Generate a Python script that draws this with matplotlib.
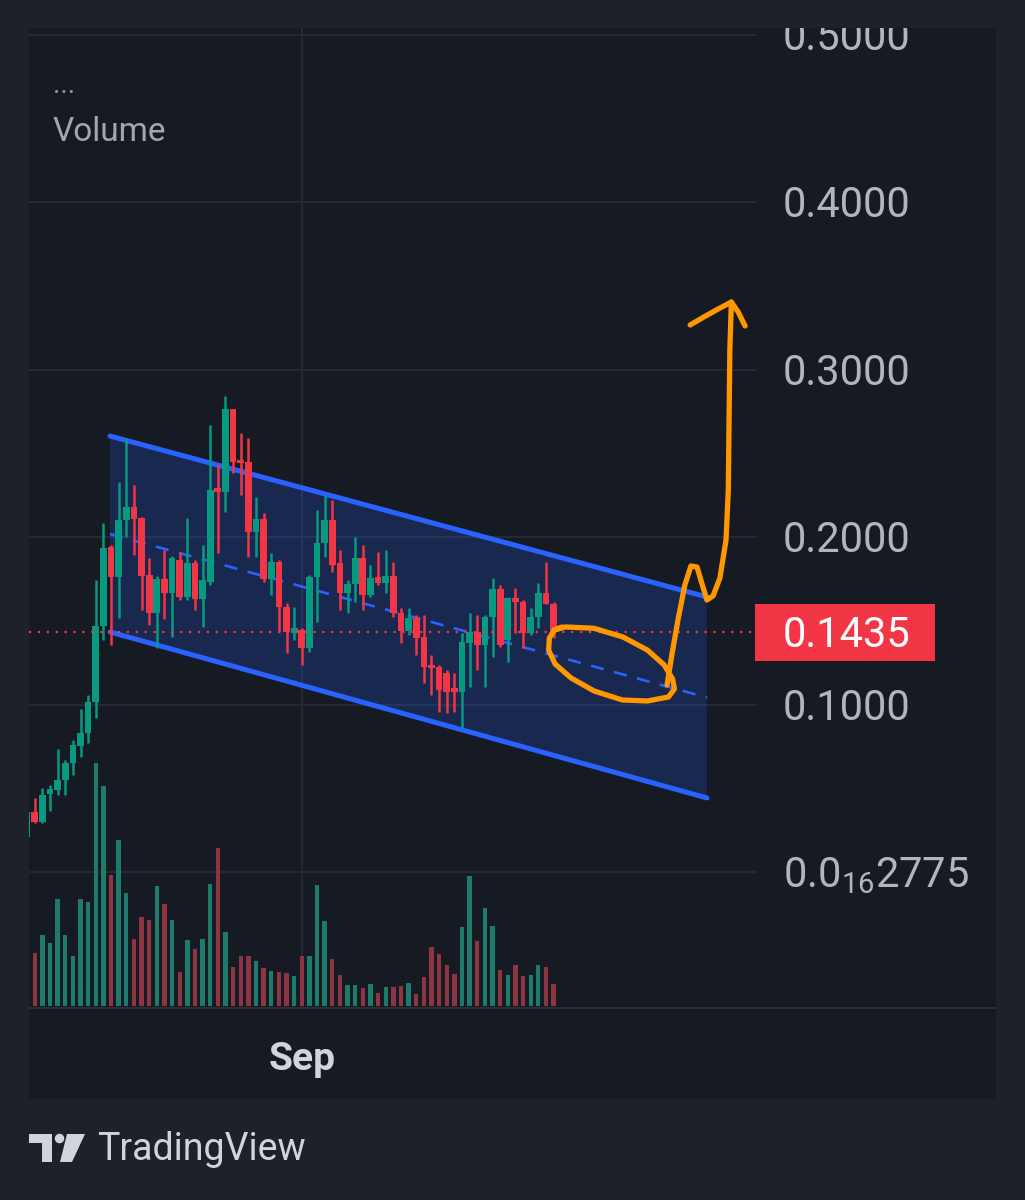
import numpy as np
import pandas as pd
import matplotlib
matplotlib.use('Agg')
import matplotlib.pyplot as plt
from matplotlib.patches import Rectangle, Polygon, Ellipse
from matplotlib.lines import Line2D
from matplotlib.transforms import ScaledTranslation, blended_transform_factory

plt.rcParams['font.family'] = ['Roboto', 'DejaVu Sans']
plt.rcParams['mathtext.fontset'] = 'custom'
plt.rcParams['mathtext.rm'] = 'Roboto'
plt.rcParams['mathtext.it'] = 'Roboto'
plt.rcParams['mathtext.bf'] = 'Roboto:bold'

# ---------------- data ----------------
dates = pd.date_range('2024-07-27', periods=70, freq='D')
opens = [0.0209, 0.0360, 0.0300, 0.0466, 0.0490, 0.0549, 0.0651, 0.0752, 0.0832, 0.1017,
         0.1469, 0.1940, 0.1761, 0.2101, 0.2181, 0.2113, 0.1773, 0.1546, 0.1749, 0.1666,
         0.1863, 0.1642, 0.1845, 0.1630, 0.1733, 0.2293, 0.2269, 0.2764, 0.2460, 0.2448,
         0.2030, 0.2107, 0.1749, 0.1851, 0.1582, 0.1427, 0.1445, 0.1337, 0.1761, 0.1964,
         0.2101, 0.1845, 0.1666, 0.1719, 0.1875, 0.1654, 0.1761, 0.1725, 0.1767, 0.1546,
         0.1439, 0.1516, 0.1403, 0.1236, 0.1224, 0.1188, 0.1099, 0.1075, 0.1367, 0.1433,
         0.1355, 0.1522, 0.1690, 0.1385, 0.1636, 0.1612, 0.1427, 0.1522, 0.1666, 0.1600]
highs = [0.0370, 0.0442, 0.0501, 0.0519, 0.0734, 0.0669, 0.0788, 0.0973, 0.1057, 0.1743,
         0.2084, 0.1952, 0.2330, 0.2591, 0.2310, 0.2120, 0.1875, 0.1767, 0.1922, 0.1887,
         0.1910, 0.2113, 0.1863, 0.1952, 0.2669, 0.2430, 0.2842, 0.2764, 0.2621, 0.2591,
         0.2239, 0.2143, 0.1904, 0.1863, 0.1606, 0.1582, 0.1457, 0.1773, 0.2161, 0.2251,
         0.2221, 0.1922, 0.1743, 0.2000, 0.1952, 0.1833, 0.1910, 0.1922, 0.1851, 0.1576,
         0.1576, 0.1534, 0.1534, 0.1296, 0.1236, 0.1206, 0.1188, 0.1427, 0.1546, 0.1534,
         0.1534, 0.1755, 0.1713, 0.1642, 0.1696, 0.1624, 0.1576, 0.1725, 0.1851, 0.1612]
lows = [0.0203, 0.0293, 0.0290, 0.0366, 0.0460, 0.0460, 0.0579, 0.0687, 0.0770, 0.0919,
        0.1385, 0.1355, 0.1516, 0.2002, 0.1893, 0.1564, 0.1475, 0.1337, 0.1510, 0.1403,
        0.1624, 0.1624, 0.1564, 0.1463, 0.1713, 0.1904, 0.2149, 0.2382, 0.2251, 0.1881,
        0.1881, 0.1731, 0.1654, 0.1433, 0.1307, 0.1385, 0.1236, 0.1313, 0.1493, 0.1881,
        0.1791, 0.1564, 0.1546, 0.1612, 0.1564, 0.1642, 0.1713, 0.1666, 0.1522, 0.1367,
        0.1415, 0.1296, 0.1128, 0.1057, 0.0955, 0.0949, 0.0955, 0.0860, 0.1104, 0.1206,
        0.1104, 0.1284, 0.1343, 0.1254, 0.1427, 0.1337, 0.1415, 0.1457, 0.1600, 0.1397]
closes = [0.0358, 0.0300, 0.0460, 0.0496, 0.0549, 0.0653, 0.0758, 0.0832, 0.1017, 0.1469,
          0.1934, 0.1761, 0.2101, 0.2181, 0.2107, 0.1767, 0.1546, 0.1749, 0.1666, 0.1875,
          0.1642, 0.1845, 0.1630, 0.1743, 0.2280, 0.2269, 0.2764, 0.2448, 0.2442, 0.2030,
          0.2107, 0.1749, 0.1851, 0.1582, 0.1433, 0.1457, 0.1337, 0.1761, 0.1964, 0.2101,
          0.1833, 0.1666, 0.1719, 0.1875, 0.1654, 0.1755, 0.1725, 0.1767, 0.1546, 0.1439,
          0.1516, 0.1397, 0.1224, 0.1218, 0.1087, 0.1075, 0.1075, 0.1373, 0.1433, 0.1355,
          0.1522, 0.1690, 0.1355, 0.1636, 0.1612, 0.1427, 0.1522, 0.1666, 0.1600, 0.1435]
volumes = [40, 53, 71, 63, 107, 71, 50, 107, 104, 243,
           220, 131, 166, 113, 67, 89, 86, 120, 102, 86,
           34, 66, 57, 67, 122, 158, 74, 39, 50, 50,
           45, 38, 35, 34, 33, 30, 50, 50, 121, 85,
           47, 31, 21, 21, 18, 22, 13, 19, 19, 20,
           23, 12, 29, 59, 52, 41, 32, 79, 130, 65,
           98, 80, 36, 31, 41, 30, 31, 41, 39, 22]

price_ticks = [0.5, 0.4, 0.3, 0.2, 0.1, 0.0]
price_labels = ['0.5000', '0.4000', '0.3000', '0.2000', '0.1000', r'0.0$_{16}$2775']
last_price = 0.1435
month_label = 'Sep'

# channel drawing anchors (bar index, price)
chan_x = [10.87, 89.1]
chan_upper = [0.2603, 0.1642]
chan_lower = [0.1433, 0.0442]
chan_mid = [0.2018, 0.1042]

# hand-drawn orange annotation (bar index, price)
loop_x = [69.1, 70.6, 74.3, 78.1, 81.3, 83.5, 84.6, 84.84, 84.06, 81.3, 78.0, 74.3,
          71.3, 69.2, 68.35, 68.45, 69.1, 70.1]
loop_y = [0.1445, 0.1463, 0.1455, 0.1403, 0.1325, 0.1236, 0.1152, 0.1093, 0.1045, 0.1021, 0.1027, 0.1081,
          0.1158, 0.1242, 0.1325, 0.1397, 0.1445, 0.1463]
tail_x = [83.87, 84.5, 85.3, 86.2, 87.0, 87.8, 88.5, 89.1, 89.9, 90.8, 91.6, 91.9, 92.0, 92.1, 92.3]
tail_y = [0.1116, 0.1296, 0.1504, 0.1713, 0.1827, 0.1821, 0.1713, 0.1624, 0.1648, 0.1755, 0.1982, 0.2281, 0.2699, 0.3116, 0.3403]
head_x = [86.9, 88.9, 90.8, 92.3, 93.2, 94.1]
head_y = [0.3266, 0.3319, 0.3367, 0.3403, 0.3343, 0.3260]

# ---------------- style ----------------
OUTER = '#1e212a'
INNER = '#161a23'
GRID = '#262a35'
GREEN = '#089981'
RED = '#f23645'
VGREEN = '#1e7a6b'
VRED = '#8d3542'
BLUE = '#2962ff'
ORANGE = '#ff9800'
LABEL = '#b2b5be'

W, H = 1025, 1200
fig = plt.figure(figsize=(W / 100, H / 100), dpi=100, facecolor=OUTER)

def fr(x0, y0, x1, y1):
    return [x0 / W, 1 - y1 / H, (x1 - x0) / W, (y1 - y0) / H]

# pane background
r = fr(29, 28, 996, 1099)
fig.add_artist(Rectangle((r[0], r[1]), r[2], r[3], transform=fig.transFigure,
                         facecolor=INNER, edgecolor='none', zorder=-10))

ax = fig.add_axes(fr(29, 28, 757, 1008))
ax.set_facecolor('none')
for s in ax.spines.values():
    s.set_visible(False)
ax.set_xticks([])
ax.set_yticks([])

x = np.arange(len(opens))
o = np.array(opens); h = np.array(highs); l = np.array(lows); c = np.array(closes)
up = c >= o
ccol = np.where(up, GREEN, RED)
vcol = np.where(up, VGREEN, VRED)

sep_idx = dates.get_loc(pd.Timestamp('2024-09-01'))

# grid
for p in price_ticks:
    ax.axhline(p, color=GRID, lw=1.4, zorder=0)
ax.axvline(sep_idx, color=GRID, lw=1.4, zorder=0)

# channel
cx = np.array(chan_x)
poly = Polygon([(cx[0], chan_upper[0]), (cx[1], chan_upper[1]),
                (cx[1], chan_lower[1]), (cx[0], chan_lower[0])],
               closed=True, facecolor=BLUE, alpha=0.2, edgecolor='none', zorder=1)
ax.add_patch(poly)
ax.plot(cx, chan_upper, color=BLUE, lw=3.6, solid_capstyle='round', zorder=2)
ax.plot(cx, chan_lower, color=BLUE, lw=3.6, solid_capstyle='round', zorder=2)
ax.plot(cx, chan_mid, color=BLUE, lw=1.9, linestyle=(0, (5, 4)), zorder=2)

# candles
ax.vlines(x, l, h, colors=ccol, lw=1.8, zorder=3)
body_bot = np.minimum(o, c)
body_h = np.maximum(np.abs(c - o), 0.0013)
ax.bar(x, body_h, bottom=body_bot, width=0.88, color=ccol, linewidth=0, zorder=4)

# last price line
ax.axhline(last_price, color=RED, lw=1.6, linestyle=(0, (1, 3)), zorder=5)

# orange annotation
for xs, ys in ((loop_x, loop_y), (tail_x, tail_y), (head_x, head_y)):
    ax.plot(xs, ys, color=ORANGE, lw=3.8, solid_capstyle='round', solid_joinstyle='round', zorder=6)

ax.set_xlim(0.25, 95.66)
ax.set_ylim(-0.0812, 0.5039)

# volume overlay
vax = ax.twinx()
vax.bar(x, volumes, width=0.57, color=vcol, linewidth=0)
vax.set_ylim(-2, 978)
vax.axis('off')
vax.patch.set_visible(False)

# price scale
ps = fig.add_axes(fr(757, 28, 996, 1008), sharey=ax)
ps.set_facecolor('none')
ps.axis('off')
ps.set_xlim(0, 1)
lx = (783 - 757) / (996 - 757)
off = ScaledTranslation(0, -15 / 100, fig.dpi_scale_trans)
for p, lab in zip(price_ticks, price_labels):
    ps.text(lx, p, lab, transform=blended_transform_factory(ps.transAxes, ps.transData) + off,
            ha='left', va='baseline', fontsize=30, color=LABEL, clip_on=True)
# last price box
bt = blended_transform_factory(ps.transAxes, ps.transData)
box_top = last_price + 28 / 1675
box_bot = last_price - 29 / 1675
ps.add_patch(Rectangle((-0.01, box_bot), (935 - 755) / 239, box_top - box_bot,
                       transform=bt, facecolor=RED, edgecolor='none', clip_on=False))
ps.text(lx, last_price, '0.1435', transform=bt + off, ha='left', va='baseline',
        fontsize=30, color='white')

# time axis
fig.add_artist(Line2D([29 / W, 996 / W], [1 - 1008 / H, 1 - 1008 / H], transform=fig.transFigure,
                      color='#2a2e39', lw=1.5))
ax.text(sep_idx, (1008 - 1070) / 980, month_label,
        transform=blended_transform_factory(ax.transData, ax.transAxes),
        ha='center', va='baseline', fontsize=28, fontweight='bold', color='#d1d4dc', clip_on=False)

# legend texts
fig.text(53 / W, 1 - 93 / H, '...', fontsize=20, color='#9598a1', ha='left', va='baseline')
fig.text(53 / W, 1 - 141 / H, 'Volume', fontsize=24, color='#a3a6af', ha='left', va='baseline')

# TradingView logo
def P(px, py):
    return (px / W, 1 - py / H)
fig.add_artist(Polygon([P(29, 1134), P(52, 1134), P(52, 1162), P(42, 1162), P(42, 1143), P(29, 1143)],
                       closed=True, transform=fig.transFigure, facecolor='#d1d4dc', edgecolor='none'))
fig.add_artist(Ellipse(P(59.5, 1138.5), 9.5 / W, 9.5 / H, transform=fig.transFigure,
                       facecolor='#d1d4dc', edgecolor='none'))
fig.add_artist(Polygon([P(67, 1134), P(85, 1134), P(72, 1162), P(60, 1162)],
                       closed=True, transform=fig.transFigure, facecolor='#d1d4dc', edgecolor='none'))
fig.text(97 / W, 1 - 1160 / H, 'TradingView', fontsize=27, color='#d1d4dc', ha='left', va='baseline')

fig.savefig('out.png', dpi=100, facecolor=OUTER)
